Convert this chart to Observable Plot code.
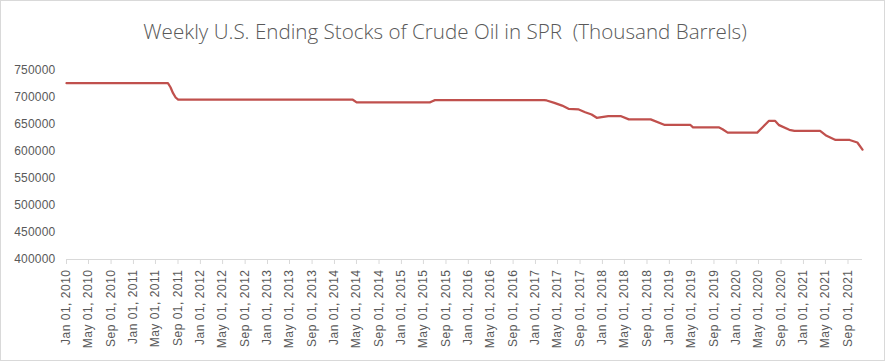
<!DOCTYPE html>
<html>
<head>
<meta charset="utf-8">
<script src="https://cdn.jsdelivr.net/npm/d3@7"></script>
<script src="https://cdn.jsdelivr.net/npm/@observablehq/plot@0.6"></script>
<style>
  html, body { margin: 0; padding: 0; background: #fff; }
  #chart { position: relative; width: 886px; height: 362px; overflow: hidden; }
  #frame { position: absolute; left: 0; top: 0; width: 885px; height: 361px; box-sizing: border-box; border: 1px solid #d9d9d9; pointer-events: none; }
  #title { position: absolute; left: 0; top: 19px; width: 890px; text-align: center; font-family: "Open Sans", sans-serif; font-weight: 300; font-size: 20.6px; line-height: 24px; color: #595959; white-space: pre; }
  #plot { position: absolute; left: 0; top: 0; }
  g[aria-label="x-axis tick"] path { stroke: #d9d9d9; }
  g[aria-label="x-axis tick label"] text { letter-spacing: 0.5px; }
  g[aria-label="y-axis tick label"] text { letter-spacing: 0.2px; }
</style>
</head>
<body>
<div id="chart">
  <div id="plot"></div>
  <div id="title">Weekly U.S. Ending Stocks of Crude Oil in SPR  (Thousand Barrels)</div>
  <div id="frame"></div>
</div>
<script>
// Weekly SPR stocks (thousand barrels), read at the line's break points
const dates = [
  "2010-01-01", "2011-07-08", "2011-07-22", "2011-08-05", "2011-08-19", "2011-09-02",
  "2014-04-11", "2014-05-02", "2015-06-05", "2015-06-19", "2015-07-03",
  "2017-02-17", "2017-03-03", "2017-04-14", "2017-05-26", "2017-06-30", "2017-08-25",
  "2017-09-29", "2017-11-03", "2017-12-01", "2018-02-02", "2018-04-13", "2018-05-25",
  "2018-09-21", "2018-12-07", "2019-04-26", "2019-05-10", "2019-09-27", "2019-10-18",
  "2019-11-15", "2020-04-24", "2020-05-22", "2020-06-26", "2020-07-31", "2020-08-21",
  "2020-10-16", "2020-11-13", "2021-04-02", "2021-05-07", "2021-06-25", "2021-09-10",
  "2021-10-22", "2021-11-19"
];
const stocks = [
  726600, 726500, 719000, 708000, 700000, 695900,
  695900, 691000, 691000, 693000, 695100,
  695100, 694500, 690000, 685000, 679000, 677800,
  672800, 668500, 662400, 665400, 665400, 659500,
  659500, 649100, 649100, 644800, 644800, 641300,
  635000, 635000, 644400, 656500, 656500, 648800,
  640200, 638100, 638100, 629000, 621300, 621300,
  616700, 603500
];
const yTicks = [400000, 450000, 500000, 550000, 600000, 650000, 700000, 750000];
const xStart = "2010-01-01";
const xEnd = "2021-11-19";

const data = dates.map((d, i) => ({ date: new Date(d), value: stocks[i] }));
const tickDates = d3.utcMonth.every(4).range(new Date(xStart), new Date(xEnd));

const chart = Plot.plot({
  width: 886,
  height: 362,
  marginTop: 70,
  marginBottom: 103,
  marginLeft: 66,
  marginRight: 24,
  style: { fontFamily: "'Liberation Sans', Arial, sans-serif", fontSize: "12px", color: "#595959", background: "transparent", overflow: "visible" },
  x: { type: "utc", domain: [new Date(xStart), new Date(xEnd)] },
  y: { domain: [400000, 750000] },
  marks: [
    Plot.ruleY([400000], { stroke: "#d9d9d9", strokeWidth: 1 }),
    Plot.axisX({ ticks: tickDates, tickFormat: d3.utcFormat("%b %d, %Y"), tickRotate: -90, tickSize: 5, tickPadding: 5, label: null }),
    Plot.axisY({ ticks: yTicks, tickFormat: d => String(d), tickSize: 0, tickPadding: 11, label: null }),
    Plot.lineY(data, { x: "date", y: "value", stroke: "#C0504D", strokeWidth: 2.25, strokeLinejoin: "round" })
  ]
});
document.getElementById("plot").appendChild(chart);
</script>
</body>
</html>
